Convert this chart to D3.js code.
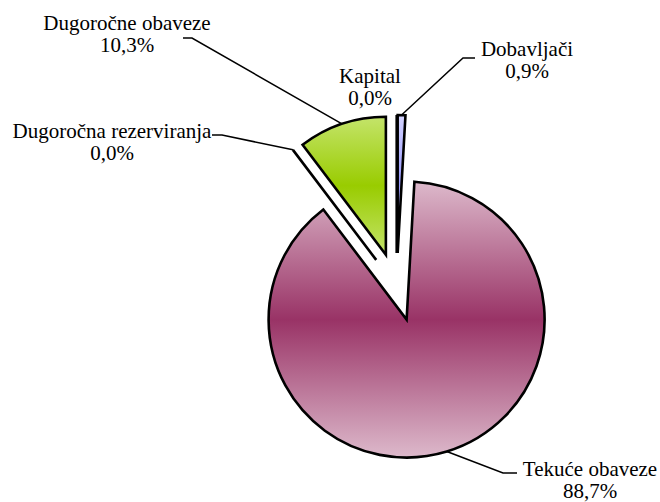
<!DOCTYPE html>
<html>
<head>
<meta charset="utf-8">
<script src="https://cdn.jsdelivr.net/npm/d3@7/dist/d3.min.js"></script>
<style>
  html, body { margin: 0; padding: 0; background: #fff; }
  svg { display: block; }
</style>
</head>
<body>
<svg id="chart" width="660" height="502"></svg>
<script>
// ---- data ----
const categories = ["Dobavljači", "Tekuće obaveze", "Dugoročna rezerviranja", "Dugoročne obaveze", "Kapital"];
const values = [0.9, 88.7, 0.0, 10.3, 0.0];
const valueLabels = ["0,9%", "88,7%", "0,0%", "10,3%", "0,0%"];
const darkColors = ["#9999ff", "#993366", "#cccccc", "#99cc00", "#cccccc"];
const lightColors = ["#d4d4ff", "#ddb9cb", "#eeeeee", "#c4e46a", "#eeeeee"];

// ---- layout ----
const cx = 396.7, cy = 287, R = 138, explode = 34;
const labelLayout = [
  { x: 527, y: 56, leader: [[475, 58], [463, 58]] },
  { x: 590, y: 476, leader: [[517, 473], [503, 473]] },
  { x: 112, y: 138, leader: [[212, 135], [222, 135]] },
  { x: 127, y: 30, leader: [[183, 38], [192, 38]] },
  { x: 370, y: 83, leader: null }
];
const lineH = 22;

const svg = d3.select("#chart");
const defs = svg.append("defs");
categories.forEach((c, i) => {
  const g = defs.append("linearGradient")
    .attr("id", "grad" + i)
    .attr("x1", 0).attr("y1", 0).attr("x2", 0).attr("y2", 1);
  g.append("stop").attr("offset", "0%").attr("stop-color", lightColors[i]);
  g.append("stop").attr("offset", "50%").attr("stop-color", darkColors[i]);
  g.append("stop").attr("offset", "100%").attr("stop-color", lightColors[i]);
});

const pie = d3.pie().sort(null).value(d => d).startAngle(0).endAngle(2 * Math.PI);
const arcs = pie(values);
const arc = d3.arc().innerRadius(0).outerRadius(R);

const root = svg.append("g").attr("transform", `translate(${cx},${cy})`);

function offset(a) {
  const mid = (a.startAngle + a.endAngle) / 2;
  return [explode * Math.sin(mid), -explode * Math.cos(mid)];
}

const order = d3.range(arcs.length).sort((a, b) => (values[b] > 0) - (values[a] > 0));
root.selectAll("path.slice")
  .data(order.map(i => ({ a: arcs[i], i })))
  .join("path")
  .attr("class", "slice")
  .attr("transform", d => { const o = offset(d.a); return `translate(${o[0]},${o[1]})`; })
  .attr("d", d => arc(d.a))
  .attr("fill", d => values[d.i] > 0 ? `url(#grad${d.i})` : "none")
  .attr("stroke", "#000")
  .attr("stroke-width", 2.6)
  .attr("stroke-linejoin", "miter");

// leader lines
arcs.forEach((a, i) => {
  const L = labelLayout[i];
  if (!L.leader) return;
  const mid = (a.startAngle + a.endAngle) / 2;
  const d = explode + R;
  const end = [cx + d * Math.sin(mid), cy - d * Math.cos(mid)];
  const pts = L.leader.concat([end]);
  svg.append("path")
    .attr("d", d3.line()(pts))
    .attr("fill", "none")
    .attr("stroke", "#000")
    .attr("stroke-width", 1.5);
});

// labels
categories.forEach((c, i) => {
  const L = labelLayout[i];
  const t = svg.append("text")
    .attr("text-anchor", "middle")
    .attr("font-family", "Liberation Serif")
    .attr("font-size", 21)
    .attr("fill", "#000");
  t.append("tspan").attr("x", L.x).attr("y", L.y).text(c);
  t.append("tspan").attr("x", L.x).attr("y", L.y + lineH).text(valueLabels[i]);
});
</script>
</body>
</html>
